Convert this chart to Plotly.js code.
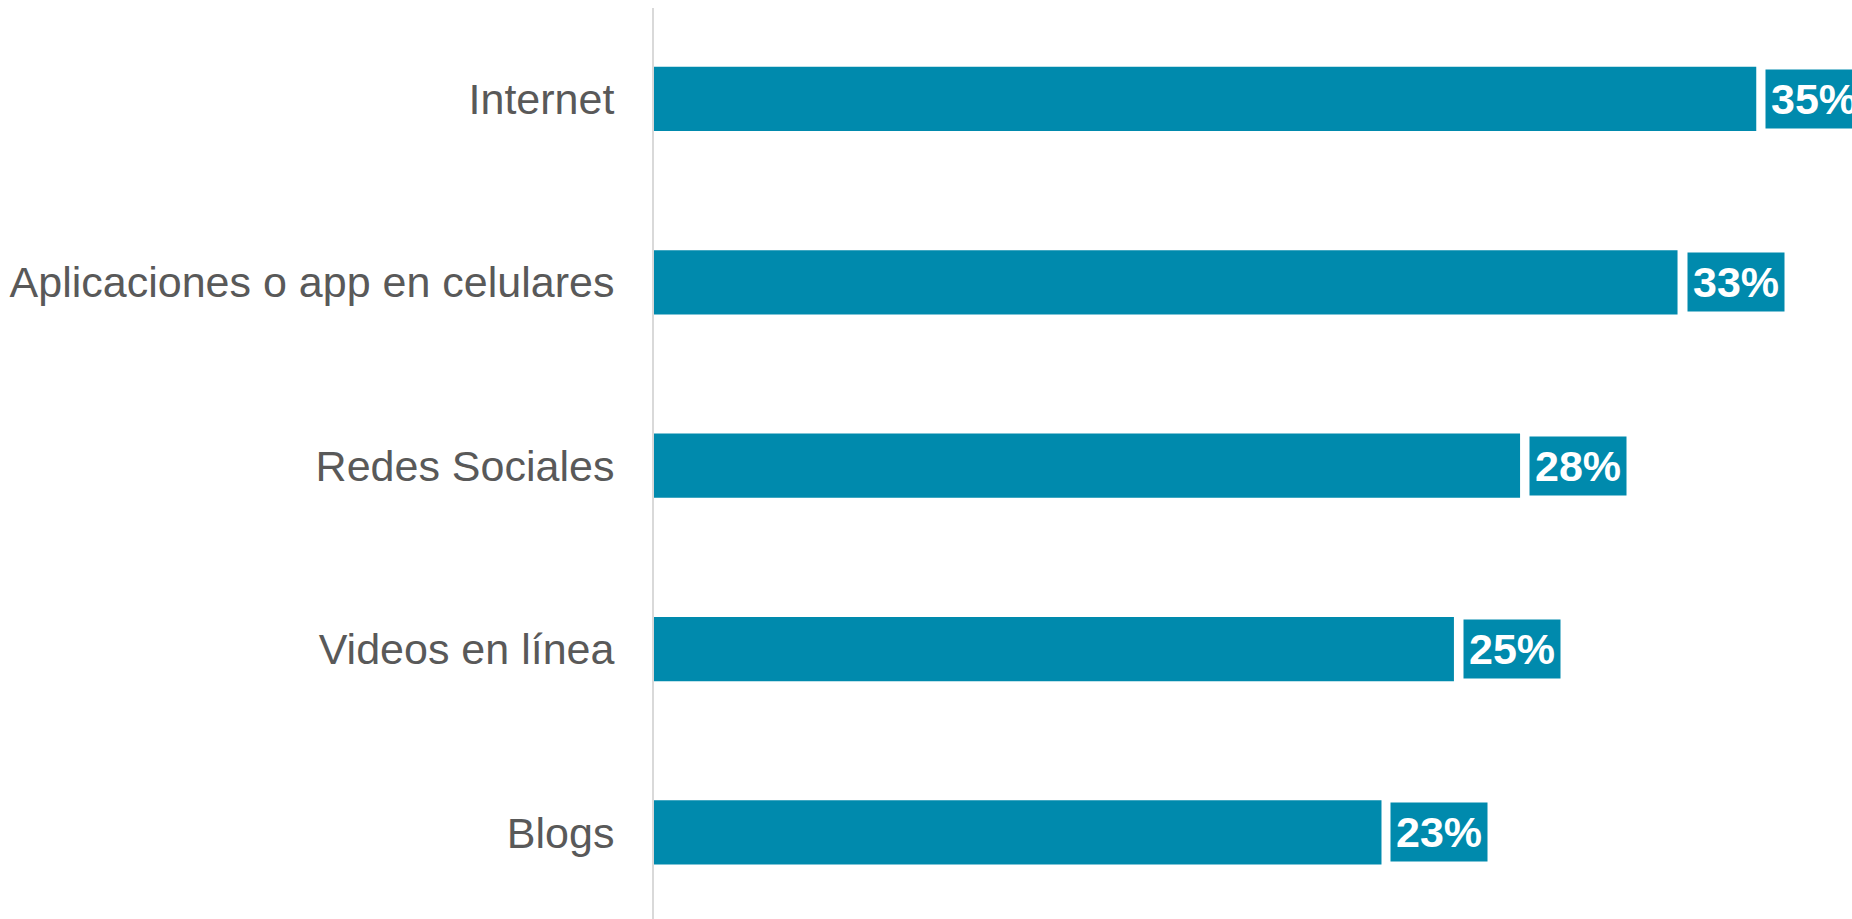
<!DOCTYPE html>
<html>
<head>
<meta charset="utf-8">
<script src="https://cdn.plot.ly/plotly-3.0.1.min.js"></script>
<style>html,body{margin:0;padding:0;overflow:hidden;background:#fff}#chart{width:1852px;height:919px}</style>
</head>
<body>
<div id="chart"></div>
<script>
// Categories listed bottom to top
var categories = ["Blogs", "Videos en línea", "Redes Sociales", "Aplicaciones o app en celulares", "Internet"];
var values = [23.1, 25.4, 27.5, 32.5, 35.0];
var valueLabels = ["23%", "25%", "28%", "33%", "35%"];

var barColor = "#008AAD";

var trace = {
  type: "bar",
  orientation: "h",
  y: categories,
  x: values,
  marker: {color: barColor},
  width: 0.35,
  hoverinfo: "none"
};

var annotations = categories.map(function(c, i) {
  return {
    x: values[i], y: c, xref: "x", yref: "y",
    xanchor: "left", yanchor: "middle",
    xshift: 9,
    text: "<b>" + valueLabels[i] + "</b>",
    showarrow: false,
    bgcolor: barColor,
    borderpad: 5,
    font: {family: "Liberation Sans, Arial, sans-serif", size: 43, color: "#ffffff"}
  };
});

var layout = {
  width: 1852, height: 919,
  margin: {l: 654, r: 0, t: 8, b: 0},
  paper_bgcolor: "#ffffff", plot_bgcolor: "#ffffff",
  showlegend: false,
  bargap: 0.65,
  xaxis: {range: [0, 38.04], visible: false, fixedrange: true},
  yaxis: {
    type: "category",
    range: [-0.472, 4.496],
    showline: true, linecolor: "#D9D9D9", linewidth: 2,
    showgrid: false, zeroline: false,
    ticks: "outside", ticklen: 29, tickcolor: "rgba(0,0,0,0)",
    tickfont: {family: "Liberation Sans, Arial, sans-serif", size: 43, color: "#595959"},
    automargin: false
  },
  annotations: annotations
};

Plotly.newPlot("chart", [trace], layout, {displayModeBar: false, staticPlot: true});
</script>
</body>
</html>
